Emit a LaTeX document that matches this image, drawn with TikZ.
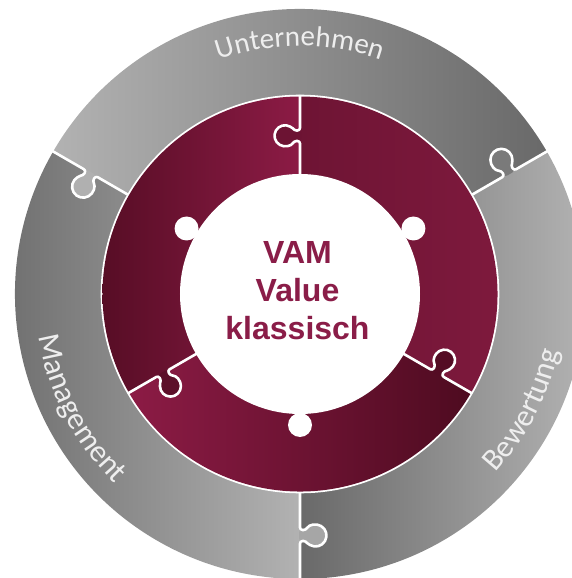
\documentclass[tikz,border=0pt]{standalone}
\usepackage{fontspec}
\newfontfamily\ringfont{Carlito}
\newfontfamily\centerfont{Liberation Sans}
\usetikzlibrary{decorations.text}
\definecolor{gLight}{HTML}{B2B2B2}
\definecolor{gDark}{HTML}{696969}
\definecolor{mBright}{HTML}{8C1B45}
\definecolor{mDark}{HTML}{4E0B20}
\definecolor{mMid}{HTML}{6E1434}
\definecolor{mMid2}{HTML}{801A3E}
\definecolor{ctextcol}{HTML}{8A1D48}
\definecolor{ringtextcol}{HTML}{EEEEEE}
\newcommand\ringtextfont{\ringfont\fontsize{29}{29}\selectfont}
\newcommand\ringtextfontb{\ringfont\fontsize{31}{31}\selectfont}
\begin{document}
\begin{tikzpicture}[x=1pt,y=1pt,
  sep/.style={draw=white,line width=2.6pt,line join=round,rounded corners=2.5pt},
  ctext/.style={font=\centerfont\bfseries\fontsize{32}{32}\selectfont,text=ctextcol,inner sep=0pt,anchor=base},
  ringlabel/.style={decorate,decoration={text along path,text align=center,text color=ringtextcol,text={|\ringtextfont|#1}}},
  ringlabelb/.style={decorate,decoration={text along path,text align=center,text color=ringtextcol,text={|\ringtextfontb|#1}}}
]
\useasboundingbox (-300,-284) rectangle (271,294);
% ---------- outer grey ring ----------
\shade[left color=gLight,right color=gDark]
  (30:285) arc[start angle=30,end angle=150,radius=285] -- (150:198) arc[start angle=150,end angle=30,radius=198] -- cycle;
\shade[left color=gDark,right color=gLight]
  (150:285) arc[start angle=150,end angle=270,radius=285] -- (270:198) arc[start angle=270,end angle=150,radius=198] -- cycle;
\shade[left color=gDark,right color=gLight]
  (270:285) arc[start angle=270,end angle=390,radius=285] -- (390:198) arc[start angle=390,end angle=270,radius=198] -- cycle;
% grey tabs
\foreach \ang/\col in {150/B0B0B0,30/7A7A7A,270/A6A6A6}{
  \begin{scope}[rotate=\ang]
    \definecolor{tabcol}{HTML}{\col}
    \fill[tabcol,rounded corners=2.5pt] (236,-1) -- (236,5.97) arc[start angle=240,end angle=-60,radius=11] -- (247,-1) -- cycle;
    \draw[sep] (195,0) -- (236,0) -- (236,5.97) arc[start angle=240,end angle=-60,radius=11] -- (247,0) -- (290,0);
  \end{scope}
}
% white gap between rings
\fill[white] (0,0) circle[radius=199.3];
% ---------- maroon ring ----------
\shade[left color=mMid,right color=mMid2]
  (-30:197.5) arc[start angle=-30,end angle=90,radius=197.5] -- (90:110) arc[start angle=90,end angle=-30,radius=110] -- cycle;
\shade[left color=mDark!85!mBright,right color=mBright]
  (90:197.5) arc[start angle=90,end angle=210,radius=197.5] -- (210:110) arc[start angle=210,end angle=90,radius=110] -- cycle;
\shade[left color=mBright,right color=mDark]
  (210:197.5) arc[start angle=210,end angle=330,radius=197.5] -- (330:110) arc[start angle=330,end angle=210,radius=110] -- cycle;
% maroon tabs
\foreach \ang/\col in {90/6C1333,210/5C0F29,330/540C24}{
  \begin{scope}[rotate=\ang]
    \definecolor{tabcol}{HTML}{\col}
    \fill[tabcol,rounded corners=2.5pt] (153,-1) -- (153,5.9) arc[start angle=240,end angle=-60,radius=10.5] -- (163.5,-1) -- cycle;
    \draw[sep] (112,0) -- (153,0) -- (153,5.9) arc[start angle=240,end angle=-60,radius=10.5] -- (163.5,0) -- (199,0);
  \end{scope}
}
% ---------- white centre ----------
\fill[white] (0,0) circle[radius=120];
\foreach \ang in {30,150,270}{\fill[white] (\ang:131) circle[radius=12];}
% ---------- labels ----------
\path[ringlabel=Unternehmen] (125:248) arc[start angle=125,end angle=55,radius=248];
\path[ringlabelb=Management] (165:265) arc[start angle=165,end angle=250,radius=265];
\path[ringlabelb=Bewertung] (290:265) arc[start angle=290,end angle=375,radius=265];
\node[ctext] (l1) at (-2.5,30.7) {VAM};
\node[ctext] (l2) at (-2.5,-7.7) {Value};
\node[ctext] (l3) at (-2.5,-45.3) {klassisch};
\end{tikzpicture}
\end{document}
